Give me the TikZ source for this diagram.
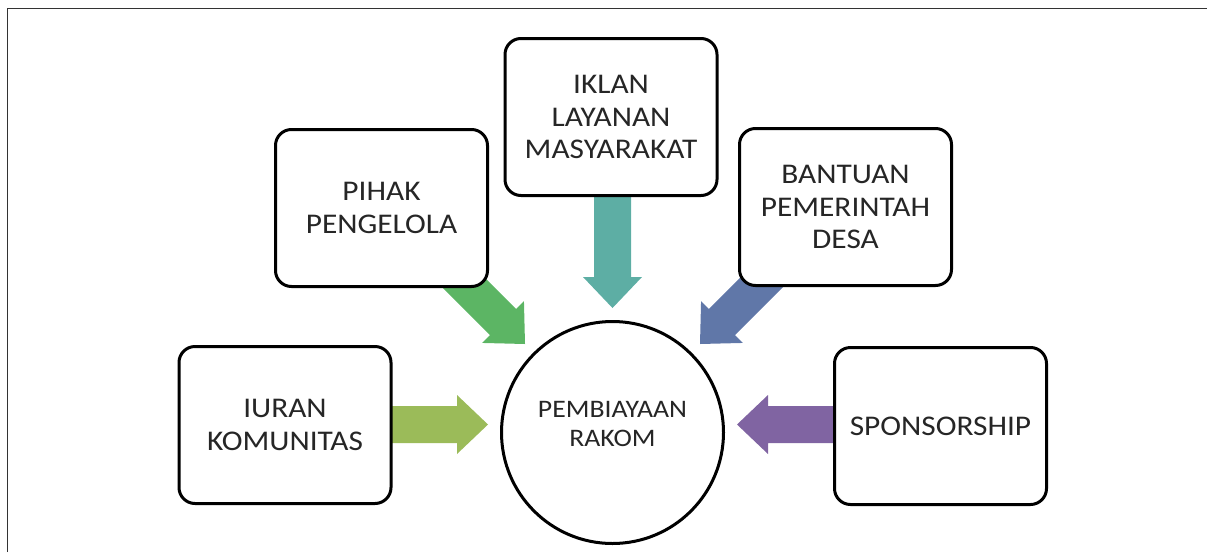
\documentclass[tikz,border=0pt]{standalone}
\usepackage{fontspec}
\setmainfont{Carlito}[FakeStretch=1.1]
\usetikzlibrary{calc,backgrounds}
\definecolor{cLime}{RGB}{155,187,89}
\definecolor{cGreen}{RGB}{92,181,100}
\definecolor{cTeal}{RGB}{93,174,164}
\definecolor{cBlue}{RGB}{96,119,168}
\definecolor{cPurple}{RGB}{128,100,162}
\definecolor{cText}{RGB}{38,38,38}
\newcommand\fatarrow[4]{% #1 colour, #2 start, #3 tip, #4 prefix
  \coordinate (#4h) at ($(#3)!31pt!(#2)$);
  \fill[#1] (#3) -- ($(#4h)!29.5pt!90:(#2)$) -- ($(#4h)!18.5pt!90:(#2)$)
    -- ($(#2)!18.5pt!-90:(#3)$) -- ($(#2)!18.5pt!90:(#3)$)
    -- ($(#4h)!18.5pt!-90:(#2)$) -- ($(#4h)!29.5pt!-90:(#2)$) -- cycle;
}
\tikzset{
  srcbox/.style={draw=black, line width=3pt, rounded corners=16pt, fill=white,
    minimum width=212pt, minimum height=157pt, align=center, text=cText,
    font=\fontsize{28.5}{32.5}\selectfont, inner sep=0pt},
  hub/.style={draw=black, line width=3pt, circle, fill=white, minimum size=222pt,
    inner sep=0pt},
  frameline/.style={line width=1.5pt, draw=black!80}
}
\begin{document}
\begin{tikzpicture}[x=1pt,y=-1pt]
\useasboundingbox (0,0) rectangle (1207,552);
\draw[frameline] (7.5,552) -- (7.5,8.5) -- (1207,8.5);

\node[hub] (hub) at (612.5,432.5) {};
\node[align=center, text=cText, font=\fontsize{25.2}{29}\selectfont] (hubtxt) at (612.5,424) {PEMBIAYAAN\\RAKOM};

\node[srcbox] (iuran) at (285,425) {IURAN\\KOMUNITAS};
\node[srcbox] (pihak) at (381.5,208) {PIHAK\\PENGELOLA};
\node[srcbox] (iklan) at (611,117) {IKLAN\\LAYANAN\\MASYARAKAT};
\node[srcbox] (bantuan) at (845.5,207) {BANTUAN\\PEMERINTAH\\DESA};
\node[srcbox] (sponsor) at (940.5,426) {SPONSORSHIP};

\coordinate (t1) at (488,424.5);
\coordinate (s1) at (iuran.center |- t1);
\coordinate (t2) at (525,344);
\coordinate (s2) at (454,273);
\coordinate (t3) at (612.5,308);
\coordinate (s3) at (t3 |- iklan.center);
\coordinate (t4) at (700,344);
\coordinate (s4) at (771,273);
\coordinate (t5) at (737,424.5);
\coordinate (s5) at (sponsor.center |- t5);

\begin{pgfonlayer}{background}
\fatarrow{cLime}{s1}{t1}{a1}
\fatarrow{cGreen}{s2}{t2}{a2}
\fatarrow{cTeal}{s3}{t3}{a3}
\fatarrow{cBlue}{s4}{t4}{a4}
\fatarrow{cPurple}{s5}{t5}{a5}
\end{pgfonlayer}
\end{tikzpicture}
\end{document}
